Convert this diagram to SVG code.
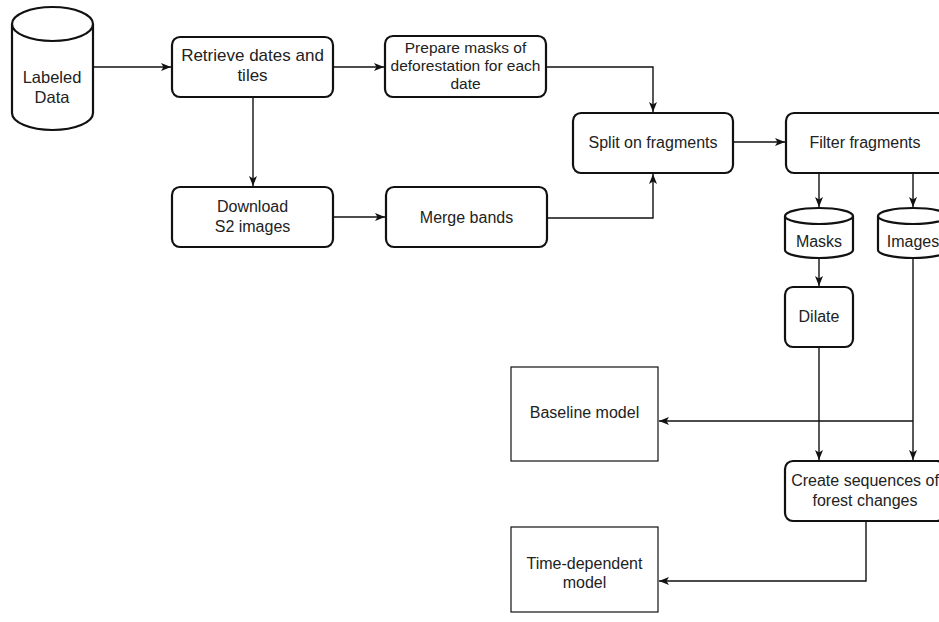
<svg xmlns="http://www.w3.org/2000/svg" width="939" height="622" viewBox="0 0 939 622">
<defs>
<style>
.n{fill:#fff;stroke:#111;stroke-width:2.2}
.m{fill:#fff;stroke:#111;stroke-width:1.2}
.c{fill:none;stroke:#111;stroke-width:1.4}
text{font-family:"Liberation Sans",Arial,sans-serif;font-size:16px;fill:#222;text-anchor:middle}
</style>
<marker id="a" markerWidth="12" markerHeight="10" refX="11" refY="5" orient="auto" markerUnits="userSpaceOnUse">
<path d="M1,1 L11,5 L1,9 L3.5,5 Z" fill="#111"/>
</marker>
</defs>
<rect width="939" height="622" fill="#fff"/>
<g id="connectors">
<path class="c" d="M93,67 L171,67" marker-end="url(#a)"/>
<path class="c" d="M333,67 L384,67" marker-end="url(#a)"/>
<path class="c" d="M253,97 L253,186" marker-end="url(#a)"/>
<path class="c" d="M546,67 L653,67 L653,112" marker-end="url(#a)"/>
<path class="c" d="M333,217 L385,217" marker-end="url(#a)"/>
<path class="c" d="M547,218 L653,218 L653,174" marker-end="url(#a)"/>
<path class="c" d="M733,142 L785,142" marker-end="url(#a)"/>
<path class="c" d="M819,173 L819,207" marker-end="url(#a)"/>
<path class="c" d="M913,173 L913,207" marker-end="url(#a)"/>
<path class="c" d="M819,258 L819,286" marker-end="url(#a)"/>
<path class="c" d="M819,347 L819,460" marker-end="url(#a)"/>
<path class="c" d="M913,258 L913,460" marker-end="url(#a)"/>
<path class="c" d="M913,421 L659,421" marker-end="url(#a)"/>
<path class="c" d="M866,521 L866,581 L659,581" marker-end="url(#a)"/>
</g>
<g id="labeled-data">
<path class="n" d="M12,24 A40.5,17 0 0 1 93,24 L93,113 A40.5,17 0 0 1 12,113 Z"/>
<path class="n" fill="none" d="M12,24 A40.5,17 0 0 0 93,24"/>
<text x="52" y="83" style="font-size:16.5px">Labeled</text>
<text x="52" y="103" style="font-size:16.5px">Data</text>
</g>
<g id="retrieve">
<rect class="n" x="172" y="37" width="161" height="60" rx="8"/>
<text x="252.5" y="61" style="font-size:17px">Retrieve dates and</text>
<text x="252.5" y="81" style="font-size:17px">tiles</text>
</g>
<g id="prepare">
<rect class="n" x="385" y="36" width="161" height="61" rx="8"/>
<text x="465.5" y="52.5" style="font-size:15.5px">Prepare masks of</text>
<text x="465.5" y="70.5" style="font-size:15.5px">deforestation for each</text>
<text x="465.5" y="88.5" style="font-size:15.5px">date</text>
</g>
<g id="download">
<rect class="n" x="172" y="187" width="161" height="60" rx="8"/>
<text x="252.5" y="211.5">Download</text>
<text x="252.5" y="231.5">S2 images</text>
</g>
<g id="merge">
<rect class="n" x="386" y="187" width="161" height="60" rx="8"/>
<text x="466.5" y="222.5">Merge bands</text>
</g>
<g id="split">
<rect class="n" x="573" y="113" width="160" height="60" rx="8"/>
<text x="653" y="147.5">Split on fragments</text>
</g>
<g id="filter">
<rect class="n" x="786" y="113" width="160" height="60" rx="8"/>
<text x="865" y="147.5">Filter fragments</text>
</g>
<g id="masks">
<path class="n" d="M785,216 A34,8 0 0 1 853,216 L853,250 A34,8 0 0 1 785,250 Z"/>
<path class="n" fill="none" d="M785,216 A34,8 0 0 0 853,216"/>
<text x="819" y="246.5">Masks</text>
</g>
<g id="images">
<path class="n" d="M878,216 A35,8 0 0 1 948,216 L948,250 A35,8 0 0 1 878,250 Z"/>
<path class="n" fill="none" d="M878,216 A35,8 0 0 0 948,216"/>
<text x="913" y="246.5">Images</text>
</g>
<g id="dilate">
<rect class="n" x="785" y="287" width="68" height="60" rx="8"/>
<text x="819" y="321.5">Dilate</text>
</g>
<g id="baseline">
<rect class="m" x="511" y="367" width="147" height="94"/>
<text x="584.5" y="417.5">Baseline model</text>
</g>
<g id="create">
<rect class="n" x="785" y="461" width="160" height="60" rx="8"/>
<text x="865" y="485.5">Create sequences of</text>
<text x="865" y="505.5">forest changes</text>
</g>
<g id="time-dependent">
<rect class="m" x="511" y="527" width="147" height="85"/>
<text x="584.5" y="568.5">Time-dependent</text>
<text x="584.5" y="587.5">model</text>
</g>
</svg>
